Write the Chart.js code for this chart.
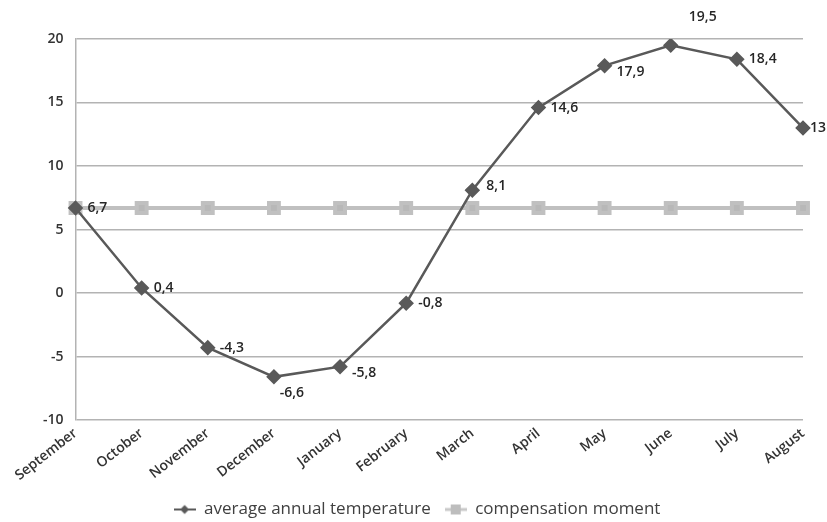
<!DOCTYPE html>
<html>
<head>
<meta charset="utf-8">
<script src="https://cdn.jsdelivr.net/npm/chart.js@4"></script>
<style>
  html, body { margin: 0; padding: 0; background: #fff; }
  #wrap { width: 827px; height: 522px; }
</style>
</head>
<body>
<div id="wrap"><canvas id="tempChart" width="827" height="522"></canvas></div>
<script>
const months = ['September', 'October', 'November', 'December', 'January', 'February',
  'March', 'April', 'May', 'June', 'July', 'August'];
const avgTemp = [6.7, 0.4, -4.3, -6.6, -5.8, -0.8, 8.1, 14.6, 17.9, 19.5, 18.4, 13];
const compensation = [6.7, 6.7, 6.7, 6.7, 6.7, 6.7, 6.7, 6.7, 6.7, 6.7, 6.7, 6.7];
const yTicks = [-10, -5, 0, 5, 10, 15, 20];

// where each value label sits relative to its point
const labelSide = ['right', 'right', 'right', 'below', 'rightBelow', 'right',
  'rightAbove', 'right', 'rightBelow', 'above', 'right', 'right'];

const fontFamily = '"Open Sans", "Liberation Sans", sans-serif';

// petites icônes de légende : trait + marqueur
function legendIcon(lineColor, fill, shape) {
  const c = document.createElement('canvas');
  c.width = 22; c.height = 12;
  const g = c.getContext('2d');
  g.strokeStyle = lineColor;
  g.lineWidth = shape === 'diamond' ? 2 : 3;
  g.beginPath(); g.moveTo(0, 6); g.lineTo(22, 6); g.stroke();
  g.fillStyle = fill;
  if (shape === 'diamond') {
    g.beginPath(); g.moveTo(11, 1.5); g.lineTo(15.5, 6); g.lineTo(11, 10.5); g.lineTo(6.5, 6); g.closePath(); g.fill();
  } else {
    g.fillRect(6, 1, 10, 10);
  }
  return c;
}
const legendIcons = [legendIcon('#595959', '#595959', 'diamond'), legendIcon('#c8c8c8', '#bdbdbd', 'square')];

// petit plugin pour écrire les valeurs (virgule décimale)
const valueLabels = {
  id: 'valueLabels',
  afterDatasetsDraw(chart) {
    const ctx = chart.ctx;
    const meta = chart.getDatasetMeta(0);
    ctx.save();
    ctx.font = '600 14px ' + fontFamily;
    ctx.fillStyle = '#262626';
    meta.data.forEach((pt, i) => {
      const txt = String(avgTemp[i]).replace('.', ',');
      let x = pt.x, y = pt.y;
      ctx.textAlign = 'left';
      ctx.textBaseline = 'middle';
      switch (labelSide[i]) {
        case 'below': x += 18; y += 16; ctx.textAlign = 'center'; break;
        case 'above': x += 32; y -= 28; ctx.textAlign = 'center'; break;
        case 'rightBelow': x += 12; y += 6; break;
        case 'rightAbove': x += 14; y -= 4; break;
        default: x += 12;
      }
      if (i === avgTemp.length - 1) x -= 5;
      ctx.fillText(txt, x, y);
    });
    ctx.restore();
  }
};

const ctx = document.getElementById('tempChart').getContext('2d');
new Chart(ctx, {
  type: 'line',
  data: {
    labels: months,
    datasets: [{
      label: 'average annual temperature',
      data: avgTemp,
      borderColor: '#595959',
      backgroundColor: '#595959',
      borderWidth: 2.5,
      pointStyle: 'rectRot',
      pointRadius: 6,
      pointHoverRadius: 6,
      tension: 0,
      order: 1
    }, {
      label: 'compensation moment',
      data: compensation,
      borderColor: '#c0c0c0',
      backgroundColor: '#b8b8b8',
      borderWidth: 4,
      pointStyle: 'rect',
      pointRadius: 7,
      pointHoverRadius: 7,
      tension: 0,
      order: 2
    }]
  },
  options: {
    responsive: false,
    animation: false,
    layout: { padding: { top: 39, right: 24, left: 31, bottom: 0 } },
    scales: {
      x: {
        offset: false,
        grid: { display: false, drawTicks: false },
        border: { display: false },
        afterFit: (scale) => { scale.height -= 2; },
        ticks: {
          minRotation: 38,
          maxRotation: 38,
          padding: 5,
          color: '#333',
          font: { family: fontFamily, size: 14, weight: '600' }
        }
      },
      y: {
        min: -10,
        max: 20,
        afterBuildTicks: (axis) => { axis.ticks = yTicks.map(v => ({ value: v })); },
        grid: { color: '#b3b3b3', lineWidth: 1.5, drawTicks: false },
        border: { color: '#b3b3b3', width: 1.5 },
        ticks: {
          padding: 12,
          color: '#333',
          font: { family: fontFamily, size: 14, weight: '600' }
        }
      }
    },
    plugins: {
      legend: {
        position: 'bottom',
        maxHeight: 35,
        labels: {
          usePointStyle: true,
          pointStyleWidth: 22,
          boxHeight: 12,
          padding: 14,
          color: '#404040',
          font: { family: fontFamily, size: 17 },
          generateLabels: (chart) => {
            const items = Chart.defaults.plugins.legend.labels.generateLabels(chart);
            items.forEach((it, i) => { it.pointStyle = legendIcons[i]; });
            return items;
          }
        }
      },
      tooltip: { enabled: false }
    }
  },
  plugins: [valueLabels]
});
</script>
</body>
</html>
